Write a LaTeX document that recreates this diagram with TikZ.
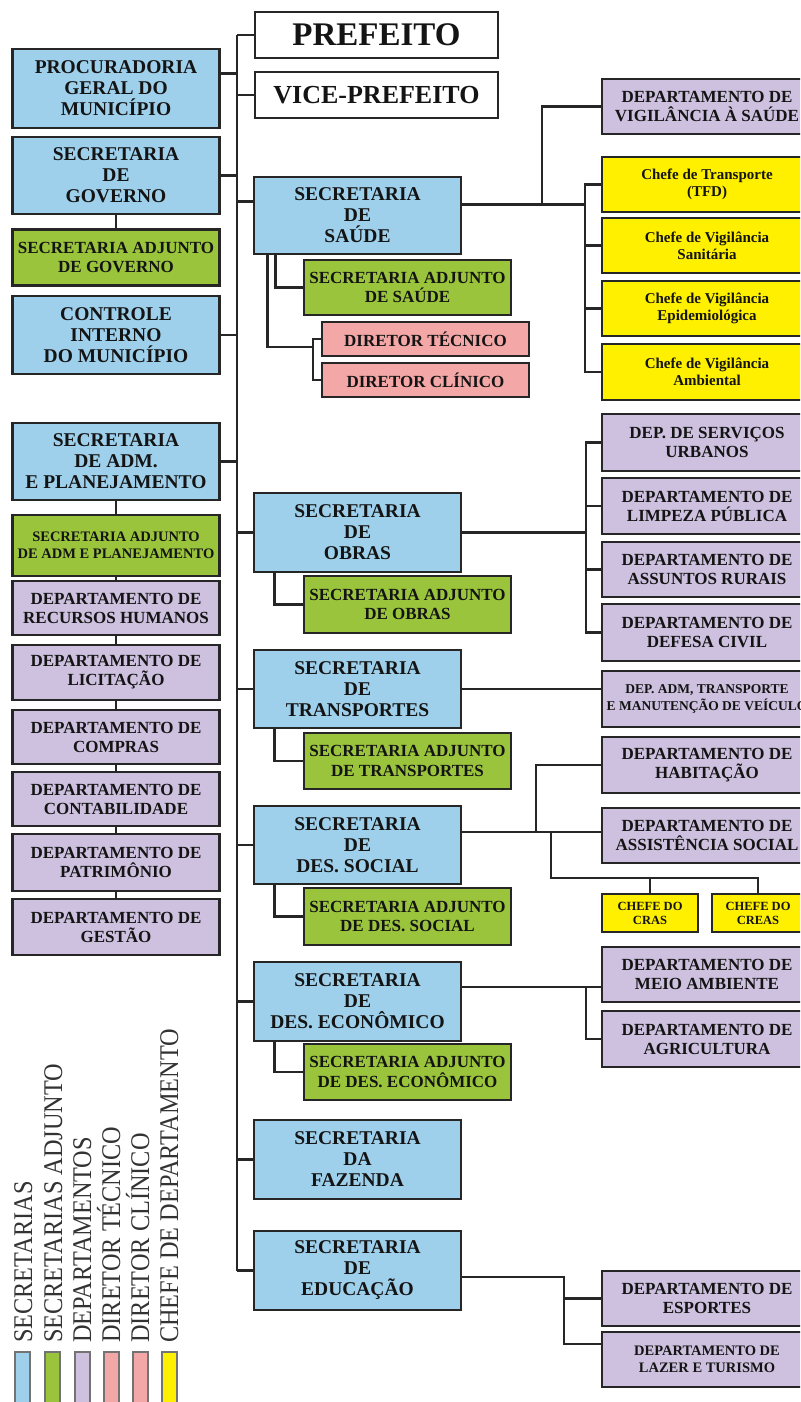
\documentclass[tikz,border=0pt]{standalone}
\usepackage{fontspec}
\setmainfont{Liberation Serif}
\definecolor{secblue}{HTML}{9ED0EC}
\definecolor{adjgreen}{HTML}{9AC43C}
\definecolor{deplilac}{HTML}{CDC1DF}
\definecolor{dirpink}{HTML}{F4A7A7}
\definecolor{chefyellow}{HTML}{FFF000}

\begin{document}
\begin{tikzpicture}[x=1pt, y=-1pt,
    box/.style = {draw=black!85, line width=2.6pt, inner sep=0pt, align=center,
        text=black!92, font=\bfseries\fontsize{19.5}{21}\selectfont},
    topo/.style = {box, fill=white, minimum width=243, minimum height=46},
    sec/.style = {box, fill=secblue, minimum width=207},
    adj/.style = {box, fill=adjgreen, minimum width=207, minimum height=56,
        font=\bfseries\fontsize{17}{19.5}\selectfont},
    dep/.style = {box, fill=deplilac, minimum width=210, minimum height=55,
        font=\bfseries\fontsize{17}{19}\selectfont},
    diretor/.style = {box, fill=dirpink, minimum width=207, minimum height=34,
        font=\bfseries\fontsize{17}{19}\selectfont},
    chefe/.style = {box, fill=chefyellow, minimum width=210, minimum height=55,
        font=\bfseries\fontsize{15}{17}\selectfont},
    link/.style = {line width=2.6pt, draw=black!85},
    legenda/.style = {rotate=90, xscale=0.9, anchor=base west, inner sep=0pt, text=black!80,
        font=\fontsize{27}{27}\selectfont}]
\useasboundingbox (0,0) rectangle (800,1402);
\clip (0,0) rectangle (800,1402);
\fill[white] (0,0) rectangle (800,1402);

% topo
\node[topo, font=\bfseries\fontsize{33}{33}\selectfont] (pref) at (376.5,35) {PREFEITO};
\node[topo, font=\bfseries\fontsize{26}{26}\selectfont] (vice) at (376.5,95) {VICE-PREFEITO};

% coluna esquerda
\node[sec, minimum height=79] (proc) at (116,88.5) {PROCURADORIA\\GERAL DO\\MUNICÍPIO};
\node[sec, minimum height=77] (gov) at (116,175.5) {SECRETARIA\\DE\\GOVERNO};
\node[adj] (gova) at (116,257.5) {SECRETARIA ADJUNTO\\DE GOVERNO};
\node[sec, minimum height=78] (ctrl) at (116,335) {CONTROLE\\INTERNO\\DO MUNICÍPIO};
\node[sec, minimum height=77] (adm) at (116,461.5) {SECRETARIA\\DE ADM.\\E PLANEJAMENTO};
\node[adj, minimum height=61, font=\bfseries\fontsize{14.5}{17}\selectfont] (adma) at (116,545.5)
    {SECRETARIA ADJUNTO\\DE ADM E PLANEJAMENTO};
\node[dep, minimum width=207, minimum height=54] (rh) at (116,608) {DEPARTAMENTO DE\\RECURSOS HUMANOS};
\node[dep, minimum width=207] (lic) at (116,672.5) {DEPARTAMENTO DE\\LICITAÇÃO};
\node[dep, minimum width=207, minimum height=54] (comp) at (116,737) {DEPARTAMENTO DE\\COMPRAS};
\node[dep, minimum width=207, minimum height=54] (cont) at (116,799) {DEPARTAMENTO DE\\CONTABILIDADE};
\node[dep, minimum width=207, minimum height=57] (patr) at (116,862.5) {DEPARTAMENTO DE\\PATRIMÔNIO};
\node[dep, minimum width=207, minimum height=56] (gest) at (116,927) {DEPARTAMENTO DE\\GESTÃO};

% coluna central
\node[sec, minimum height=77] (saude) at (357.5,215.5) {SECRETARIA\\DE\\SAÚDE};
\node[adj, minimum height=55] (saudea) at (407.5,287.5) {SECRETARIA ADJUNTO\\DE SAÚDE};
\node[diretor] (dtec) at (425.5,339) {DIRETOR TÉCNICO};
\node[diretor] (dcli) at (425.5,380) {DIRETOR CLÍNICO};
\node[sec, minimum height=79] (obras) at (357.5,532.5) {SECRETARIA\\DE\\OBRAS};
\node[adj, minimum height=57] (obrasa) at (407.5,604.5) {SECRETARIA ADJUNTO\\DE OBRAS};
\node[sec, minimum height=78] (transp) at (357.5,689) {SECRETARIA\\DE\\TRANSPORTES};
\node[adj] (transpa) at (407.5,761) {SECRETARIA ADJUNTO\\DE TRANSPORTES};
\node[sec, minimum height=78] (social) at (357.5,845) {SECRETARIA\\DE\\DES. SOCIAL};
\node[adj, minimum height=57] (sociala) at (407.5,916.5) {SECRETARIA ADJUNTO\\DE DES. SOCIAL};
\node[sec, minimum height=79] (econ) at (357.5,1001.5) {SECRETARIA\\DE\\DES. ECONÔMICO};
\node[adj] (econa) at (407.5,1072) {SECRETARIA ADJUNTO\\DE DES. ECONÔMICO};
\node[sec, minimum height=79] (faz) at (357.5,1159.5) {SECRETARIA\\DA\\FAZENDA};
\node[sec, minimum height=79] (edu) at (357.5,1270.5) {SECRETARIA\\DE\\EDUCAÇÃO};

% coluna direita
\node[dep] (vig) at (707,106.5) {DEPARTAMENTO DE\\VIGILÂNCIA À SAÚDE};
\node[chefe] (tfd) at (707,184.5) {Chefe de Transporte\\(TFD)};
\node[chefe] (sanit) at (707,245.5) {Chefe de Vigilância\\Sanitária};
\node[chefe] (epid) at (707,308.5) {Chefe de Vigilância\\Epidemiológica};
\node[chefe, minimum height=56] (amb) at (707,372) {Chefe de Vigilância\\Ambiental};
\node[dep, minimum height=57] (urb) at (707,442.5) {DEP. DE SERVIÇOS\\URBANOS};
\node[dep, minimum height=56] (limp) at (707,506) {DEPARTAMENTO DE\\LIMPEZA PÚBLICA};
\node[dep] (rur) at (707,569.5) {DEPARTAMENTO DE\\ASSUNTOS RURAIS};
\node[dep, minimum height=57] (civ) at (707,632.5) {DEPARTAMENTO DE\\DEFESA CIVIL};
\node[dep, minimum height=56, font=\bfseries\fontsize{13.5}{16.5}\selectfont] (vei) at (707,699)
    {DEP. ADM, TRANSPORTE\\E MANUTENÇÃO DE VEÍCULO};
\node[dep, minimum height=56] (hab) at (707,765) {DEPARTAMENTO DE\\HABITAÇÃO};
\node[dep] (assist) at (707,835.5) {DEPARTAMENTO DE\\ASSISTÊNCIA SOCIAL};
\node[chefe, minimum width=96, minimum height=38, font=\bfseries\fontsize{12.5}{14}\selectfont] (cras)
    at (650,913) {CHEFE DO\\CRAS};
\node[chefe, minimum width=92, minimum height=38, font=\bfseries\fontsize{12.5}{14}\selectfont] (creas)
    at (758,913) {CHEFE DO\\CREAS};
\node[dep] (meio) at (707,974.5) {DEPARTAMENTO DE\\MEIO AMBIENTE};
\node[dep, minimum height=56] (agri) at (707,1039) {DEPARTAMENTO DE\\AGRICULTURA};
\node[dep] (esp) at (707,1298.5) {DEPARTAMENTO DE\\ESPORTES};
\node[dep, font=\bfseries\fontsize{14.5}{16.5}\selectfont] (laz) at (707,1359.5)
    {DEPARTAMENTO DE\\LAZER E TURISMO};

% pontos de ligacao
\coordinate (trunk) at (237,36);
\coordinate (procR) at ([yshift=15]proc.east);
\coordinate (saudeL) at ([yshift=14]saude.west);
\coordinate (saudeR) at ([yshift=11]saude.east);
\coordinate (svig) at (542,204.5);
\coordinate (sbrk) at (585,204.5);
\coordinate (dbrk) at (313,347);
\coordinate (obrk) at (586,532.5);
\coordinate (socR) at ([yshift=13]social.east);
\coordinate (shab) at (536,832);
\coordinate (scras) at (551,832);
\coordinate (cbar) at (551,878);
\coordinate (ebrk) at (586,987);
\coordinate (edbrk) at (564,1277);
\coordinate (edlaz) at (564,1344);

% tronco
\draw[link] (pref.west -| trunk) -- (edu.west -| trunk);
\foreach \n in {pref, vice, obras, transp, social, econ, faz, edu}
    \draw[link] (\n.west -| trunk) -- (\n.west);
\foreach \n in {gov, ctrl, adm}
    \draw[link] (\n.east) -- (\n.east -| trunk);
\draw[link] (procR) -- (procR -| trunk);
\draw[link] (saudeL -| trunk) -- (saudeL);
\foreach \a/\b in {gov/gova, adm/adma, adma/rh, rh/lic, lic/comp, comp/cont, cont/patr, patr/gest}
    \draw[link] (\a.south) -- (\b.north);

% saude
\draw[link] ([xshift=23]saude.south west) |- (saudea.west);
\draw[link] ([xshift=15]saude.south west) |- (dbrk);
\draw[link] (dtec.west) -| (dbrk) |- (dcli.west);
\draw[link] (saudeR) -- (sbrk);
\draw[link] (svig) |- (vig.west);
\draw[link] (tfd.west) -| (sbrk) |- (amb.west);
\foreach \n in {sanit, epid}
    \draw[link] (\n.west) -- (\n.west -| sbrk);

% obras
\draw[link] ([xshift=22]obras.south west) |- (obrasa.west);
\draw[link] (obras.east) -- (obrk);
\draw[link] (urb.west) -| (obrk) |- (civ.west);
\foreach \n in {limp, rur}
    \draw[link] (\n.west) -- (\n.west -| obrk);

% transportes
\draw[link] ([xshift=22]transp.south west) |- (transpa.west);
\draw[link] (transp.east) -- (transp.east -| vei.west);

% desenvolvimento social
\draw[link] ([xshift=22]social.south west) |- (sociala.west);
\draw[link] (socR) -- (socR -| assist.west);
\draw[link] (shab) |- (hab.west);
\draw[link] (scras) -- (cbar) -| (creas.north);
\draw[link] (cras.north) |- (cbar);

% desenvolvimento economico
\draw[link] ([xshift=22]econ.south west) |- (econa.west);
\draw[link] (ebrk -| econ.east) -- (ebrk -| meio.west);
\draw[link] (ebrk) |- (agri.west);

% educacao
\draw[link] (edbrk -| edu.east) -- (edbrk) -- (edlaz) -- (edlaz -| laz.west);
\draw[link] (esp.west) -- (esp.west -| edbrk);

% legenda
\foreach \x/\c in {15/secblue, 45/adjgreen, 75/deplilac, 104/dirpink, 133/dirpink, 162/chefyellow}
    \draw[draw=black!55, line width=1.2pt, fill=\c] (\x,1352) rectangle +(15,60);
\node[legenda] (lsec) at (32,1343) {SECRETARIAS};
\node[legenda] (ladj) at (62,1343) {SECRETARIAS ADJUNTO};
\node[legenda] (ldep) at (91,1343) {DEPARTAMENTOS};
\node[legenda] (ltec) at (120,1343) {DIRETOR TÉCNICO};
\node[legenda] (lcli) at (149,1343) {DIRETOR CLÍNICO};
\node[legenda] (lche) at (178,1343) {CHEFE DE DEPARTAMENTO};
\end{tikzpicture}
\end{document}
